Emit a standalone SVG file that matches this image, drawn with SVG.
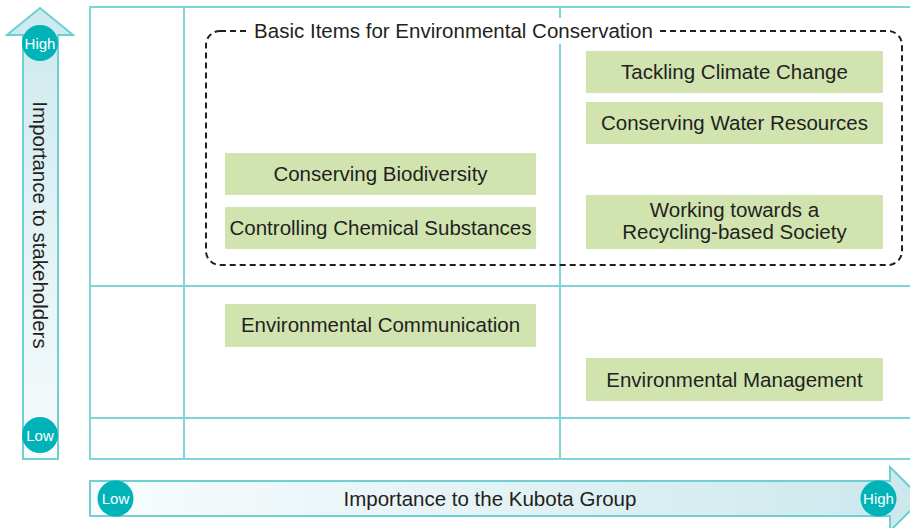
<svg xmlns="http://www.w3.org/2000/svg" width="910" height="528" viewBox="0 0 910 528">
  <defs>
    <linearGradient id="gradV" x1="0" y1="0" x2="0" y2="1">
      <stop offset="0" stop-color="#cde9ee"/>
      <stop offset="1" stop-color="#f7fbfc"/>
    </linearGradient>
    <linearGradient id="gradH" x1="0" y1="0" x2="1" y2="0">
      <stop offset="0" stop-color="#f9fcfd"/>
      <stop offset="1" stop-color="#cbe8ed"/>
    </linearGradient>
    <style>
      .grid { fill: none; stroke: #7ed4d6; stroke-width: 2; }
      .arrow { stroke: #6fcfd2; stroke-width: 2; }
      .box { fill: #d1e4b0; }
      .lbl { font-family: "Liberation Sans", Arial, Helvetica, sans-serif; font-size: 20.5px; fill: #231f20; text-anchor: middle; }
      .badge { fill: #00b3b9; }
      .badgeText { font-family: "Liberation Sans", Arial, Helvetica, sans-serif; font-size: 15px; fill: #ffffff; text-anchor: middle; }
      .dash { fill: none; stroke: #231f20; stroke-width: 2; stroke-dasharray: 6 4; }
    </style>
  </defs>

  <rect width="910" height="528" fill="#ffffff"/>

  <!-- matrix grid -->
  <g id="grid">
    <rect class="grid" x="90" y="7" width="840" height="452"/>
    <line class="grid" x1="184" y1="7" x2="184" y2="459"/>
    <line class="grid" x1="560" y1="7" x2="560" y2="459"/>
    <line class="grid" x1="90" y1="286" x2="910" y2="286"/>
    <line class="grid" x1="90" y1="418" x2="910" y2="418"/>
  </g>

  <!-- vertical axis arrow -->
  <g id="axis-stakeholders">
    <path class="arrow" fill="url(#gradV)" d="M23 459 L23 35 L7 35 L40 8 L73 35 L58 35 L58 459 Z"/>
    <text class="lbl" transform="translate(33,225) rotate(90)">Importance to stakeholders</text>
    <circle class="badge" cx="40" cy="43" r="18"/>
    <text class="badgeText" x="40" y="48.5">High</text>
    <circle class="badge" cx="40" cy="435" r="18"/>
    <text class="badgeText" x="40" y="440.5">Low</text>
  </g>

  <!-- horizontal axis arrow -->
  <g id="axis-kubota">
    <path class="arrow" fill="url(#gradH)" d="M90 481 L890 481 L890 467 L922 499 L890 531 L890 516 L90 516 Z"/>
    <text class="lbl" x="490" y="505.5">Importance to the Kubota Group</text>
    <circle class="badge" cx="115.5" cy="498.5" r="18"/>
    <text class="badgeText" x="115.5" y="504">Low</text>
    <circle class="badge" cx="878.5" cy="498.5" r="18"/>
    <text class="badgeText" x="878.5" y="504">High</text>
  </g>

  <!-- dashed group frame -->
  <g id="basic-items">
    <rect class="dash" x="206" y="31" width="696" height="234" rx="14" ry="14"/>
    <rect x="248" y="18" width="412" height="26" fill="#ffffff"/>
    <text class="lbl" x="453.5" y="38">Basic Items for Environmental Conservation</text>
  </g>

  <g id="climate">
    <rect class="box" x="586" y="51" width="297" height="42"/>
    <text class="lbl" x="734.5" y="79">Tackling Climate Change</text>
  </g>
  <g id="water">
    <rect class="box" x="586" y="102" width="297" height="42"/>
    <text class="lbl" x="734.5" y="130">Conserving Water Resources</text>
  </g>
  <g id="biodiversity">
    <rect class="box" x="225" y="153" width="311" height="42"/>
    <text class="lbl" x="380.5" y="181">Conserving Biodiversity</text>
  </g>
  <g id="chemical">
    <rect class="box" x="225" y="207" width="311" height="42"/>
    <text class="lbl" x="380.5" y="235">Controlling Chemical Substances</text>
  </g>
  <g id="recycling">
    <rect class="box" x="586" y="195" width="297" height="54"/>
    <text class="lbl" x="734.5" y="217">Working towards a</text>
    <text class="lbl" x="734.5" y="239">Recycling-based Society</text>
  </g>
  <g id="communication">
    <rect class="box" x="225" y="304" width="311" height="43"/>
    <text class="lbl" x="380.5" y="332">Environmental Communication</text>
  </g>
  <g id="management">
    <rect class="box" x="586" y="358" width="297" height="43"/>
    <text class="lbl" x="734.5" y="387">Environmental Management</text>
  </g>
</svg>
